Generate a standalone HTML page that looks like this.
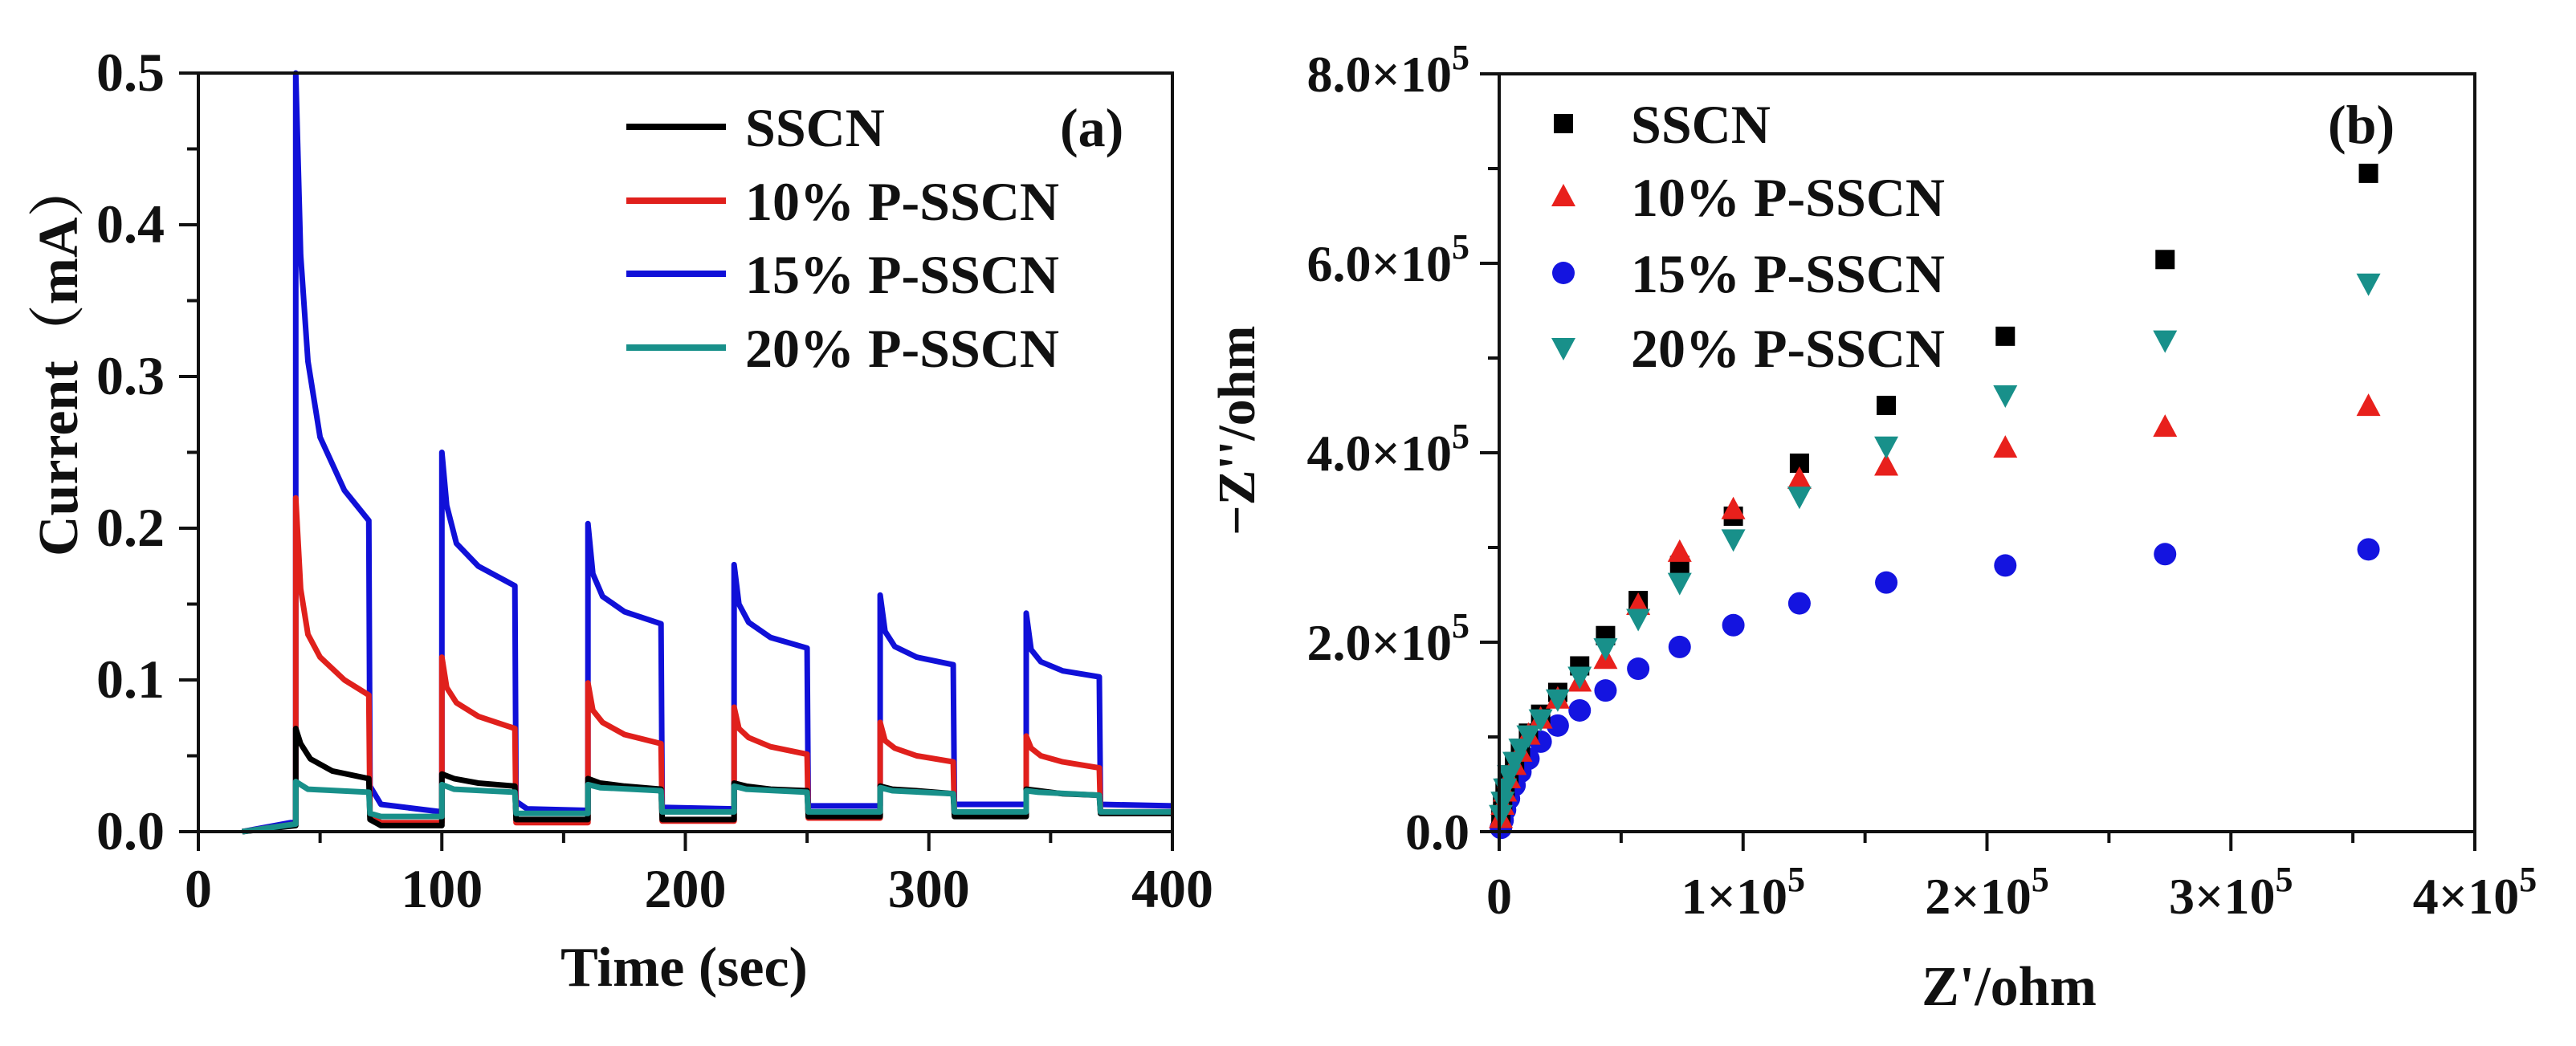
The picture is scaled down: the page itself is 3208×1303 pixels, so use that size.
<!DOCTYPE html>
<html><head><meta charset="utf-8"><style>
html,body{margin:0;padding:0;background:#fff;}
svg{display:block;}
text{font-family:"Liberation Serif","Noto Serif CJK SC",serif;font-weight:bold;fill:#111;}
</style></head><body>
<svg id="fig" width="3208" height="1303" viewBox="0 0 3208 1303" xmlns="http://www.w3.org/2000/svg">
<rect width="3208" height="1303" fill="#fff"/>
<g id="chartA"></g>
<g id="chartB"></g>
</svg>
<script>
// ---------- Chart (a) data ----------
const aXTicks = [0, 100, 200, 300, 400];
const aYTicks = [0.0, 0.1, 0.2, 0.3, 0.4, 0.5];
const aSeriesNames = ["SSCN", "10% P-SSCN", "15% P-SSCN", "20% P-SSCN"];
const aSSCN = [[18,0],[40,0.004],[40,0.068],[42,0.058],[46,0.048],[55,0.04],[70,0.035],[70.5,0.008],[75,0.004],[100,0.004],[100,0.038],[105,0.035],[115,0.032],[130,0.03],[130.5,0.008],[160,0.008],[160,0.035],[165,0.032],[175,0.03],[190,0.028],[190.5,0.008],[220,0.008],[220,0.032],[225,0.03],[235,0.028],[250,0.027],[250.5,0.01],[280,0.01],[280,0.03],[285,0.028],[295,0.027],[310,0.025],[310.5,0.01],[340,0.01],[340,0.028],[345,0.027],[355,0.025],[370,0.024],[370.5,0.012],[400,0.012]];
const aP10 = [[18,0],[40,0.005],[40,0.22],[42,0.16],[45,0.13],[50,0.115],[60,0.1],[70,0.09],[70.5,0.01],[75,0.006],[100,0.006],[100,0.115],[102,0.095],[106,0.085],[115,0.076],[130,0.068],[130.5,0.006],[160,0.006],[160,0.098],[162,0.08],[166,0.072],[175,0.064],[190,0.058],[190.5,0.007],[220,0.007],[220,0.082],[222,0.068],[226,0.062],[235,0.056],[250,0.051],[250.5,0.009],[280,0.009],[280,0.072],[282,0.06],[286,0.055],[295,0.05],[310,0.046],[310.5,0.011],[340,0.011],[340,0.063],[342,0.055],[346,0.05],[355,0.046],[370,0.042],[370.5,0.013],[400,0.013]];
const aP15 = [[18,0],[38,0.006],[40,0.006],[40,0.5],[42,0.38],[45,0.31],[50,0.26],[60,0.225],[70,0.205],[70.5,0.03],[75,0.018],[100,0.013],[100,0.25],[102,0.215],[106,0.19],[115,0.175],[130,0.162],[130.5,0.02],[135,0.015],[160,0.014],[160,0.203],[162,0.17],[166,0.155],[175,0.145],[190,0.137],[190.5,0.016],[220,0.015],[220,0.176],[222,0.15],[226,0.138],[235,0.128],[250,0.121],[250.5,0.017],[280,0.017],[280,0.156],[282,0.132],[286,0.122],[295,0.115],[310,0.11],[310.5,0.018],[340,0.018],[340,0.144],[342,0.12],[346,0.112],[355,0.106],[370,0.102],[370.5,0.018],[400,0.017]];
const aP20 = [[18,0],[40,0.005],[40,0.033],[45,0.028],[70,0.026],[70.5,0.012],[75,0.01],[100,0.01],[100,0.031],[105,0.028],[130,0.026],[130.5,0.012],[160,0.012],[160,0.031],[165,0.029],[190,0.027],[190.5,0.013],[220,0.013],[220,0.03],[225,0.028],[250,0.026],[250.5,0.013],[280,0.013],[280,0.029],[285,0.027],[310,0.025],[310.5,0.013],[340,0.013],[340,0.027],[345,0.026],[370,0.024],[370.5,0.013],[400,0.013]];

// ---------- Chart (b) data ----------
const bXTicks = [0, 1, 2, 3, 4];       // ×10^5
const bYTicks = [0, 2, 4, 6, 8];       // ×10^5
const bZre = [0.007,0.014,0.024,0.04,0.063,0.087,0.12,0.17,0.24,0.33,0.436,0.57,0.74,0.96,1.231,1.587,2.075,2.73,3.564]; // ×10^5
const bSSCN = [0.18,0.32,0.46,0.6,0.74,0.88,1.04,1.24,1.47,1.75,2.07,2.44,2.81,3.33,3.89,4.5,5.23,6.04,6.95];
const bP10 = [0.14,0.28,0.42,0.56,0.70,0.84,1.02,1.19,1.40,1.58,1.82,2.39,2.95,3.40,3.72,3.86,4.05,4.27,4.49];
const bP15 = [0.04,0.12,0.23,0.35,0.49,0.63,0.77,0.95,1.12,1.28,1.49,1.72,1.95,2.18,2.41,2.63,2.81,2.93,2.98];
const bP20 = [0.18,0.32,0.46,0.6,0.74,0.88,1.02,1.19,1.40,1.64,1.94,2.25,2.63,3.09,3.54,4.07,4.61,5.19,5.79];

const NS = "http://www.w3.org/2000/svg";
function mk(parent, tag, attrs, txt){
  const e = document.createElementNS(NS, tag);
  for (const k in attrs) e.setAttribute(k, attrs[k]);
  if (txt !== undefined) e.textContent = txt;
  parent.appendChild(e);
  return e;
}

// ---------- Chart (a) ----------
(function(){
  const g = document.getElementById('chartA');
  const L=247, R=1460, T=91, B=1036;
  const xs = v => L + (v/400)*(R-L);
  const ys = v => B - (v/0.5)*(B-T);
  const colors = ["#000000","#e0201c","#1010d8","#18908a"];
  const data = [aSSCN, aP10, aP15, aP20];
  const order = [2,1,0,3];
  order.forEach(i=>{
    const d = data[i].map((p,j)=>(j?'L':'M')+xs(p[0]).toFixed(1)+' '+ys(p[1]).toFixed(1)).join(' ');
    const p = mk(g,'path',{d:d,fill:'none',stroke:colors[i],'stroke-width':7,'stroke-linejoin':'round'});
    
    
  });
  const fr = mk(g,'rect',{x:L,y:T,width:R-L,height:B-T,fill:'none',stroke:'#111','stroke-width':4});
  
  
  aXTicks.forEach(v=>{
    mk(g,'line',{x1:xs(v),x2:xs(v),y1:B,y2:B+24,stroke:'#111','stroke-width':4});
    const t = mk(g,'text',{x:xs(v),y:1130,'text-anchor':'middle','font-size':68},String(v));
    
    
  });
  for(let v=50; v<400; v+=100) mk(g,'line',{x1:xs(v),x2:xs(v),y1:B,y2:B+14,stroke:'#111','stroke-width':4});
  aYTicks.forEach(v=>{
    mk(g,'line',{x1:L-24,x2:L,y1:ys(v),y2:ys(v),stroke:'#111','stroke-width':4});
    const t = mk(g,'text',{x:205,y:ys(v)+22,'text-anchor':'end','font-size':68},v.toFixed(1));
    
    
  });
  for(let v=0.05; v<0.5; v+=0.1) mk(g,'line',{x1:L-14,x2:L,y1:ys(v),y2:ys(v),stroke:'#111','stroke-width':4});
  const xt = mk(g,'text',{x:852,y:1228,'text-anchor':'middle','font-size':70},'Time (sec)');
  
  
  const yt = mk(g,'text',{x:0,y:0,'text-anchor':'start','font-size':70,transform:'translate(96,693) rotate(-90)'},'Current（mA）');
  
  
  const lab = mk(g,'text',{x:1320,y:182,'font-size':68},'(a)');
  
  
  const rows=[158,250,341,433];
  aSeriesNames.forEach((n,i)=>{
    const lg = mk(g,'g',{});
    
    
    mk(lg,'line',{x1:780,x2:904,y1:rows[i],y2:rows[i],stroke:colors[i],'stroke-width':8});
    mk(lg,'text',{x:928,y:rows[i]+24,'font-size':68},n);
  });
})();

// ---------- Chart (b) ----------
(function(){
  const g = document.getElementById('chartB');
  const L=1867, R=3082, T=92, B=1036;
  const xs = v => L + (v/4)*(R-L);
  const ys = v => B - (v/8)*(B-T);
  const names = ["SSCN","10% P-SSCN","15% P-SSCN","20% P-SSCN"];
  const colors = ["#000000","#e8201c","#1414e0","#18908a"];
  const data = [bSSCN,bP10,bP15,bP20];
  function marker(parent, kind, cx, cy, col){
    if(kind===0) return mk(parent,'rect',{x:cx-12,y:cy-12,width:24,height:24,fill:col});
    if(kind===1) return mk(parent,'polygon',{points:`${cx},${cy-16} ${cx+15},${cy+12} ${cx-15},${cy+12}`,fill:col});
    if(kind===2) return mk(parent,'circle',{cx:cx,cy:cy,r:14,fill:col});
    return mk(parent,'polygon',{points:`${cx-15},${cy-12} ${cx+15},${cy-12} ${cx},${cy+16}`,fill:col});
  }
  [2,0,1,3].forEach(i=>{
    const sg = mk(g,'g',{});
    
    
    data[i].forEach((v,j)=>{
      const m = marker(sg,i,xs(bZre[j]),ys(v),colors[i]);
      
      
    });
  });
  const fr = mk(g,'rect',{x:L,y:T,width:R-L,height:B-T,fill:'none',stroke:'#111','stroke-width':4});
  
  
  bXTicks.forEach(v=>{
    mk(g,'line',{x1:xs(v),x2:xs(v),y1:B,y2:B+24,stroke:'#111','stroke-width':4});
    const t = mk(g,'text',{x:xs(v),y:1138,'text-anchor':'middle','font-size':64});
    
    
    if(v===0){ t.textContent='0'; }
    else { t.textContent = v+'×10'; mk(t,'tspan',{dy:-28,'font-size':44},'5'); }
  });
  for(let v=0.5; v<4; v+=1) mk(g,'line',{x1:xs(v),x2:xs(v),y1:B,y2:B+14,stroke:'#111','stroke-width':4});
  bYTicks.forEach(v=>{
    mk(g,'line',{x1:L-24,x2:L,y1:ys(v),y2:ys(v),stroke:'#111','stroke-width':4});
    const t = mk(g,'text',{x:1830,y:ys(v)+22,'text-anchor':'end','font-size':64});
    
    
    if(v===0){ t.textContent='0.0'; }
    else { t.textContent = v.toFixed(1)+'×10'; mk(t,'tspan',{dy:-28,'font-size':44},'5'); }
  });
  for(let v=1; v<8; v+=2) mk(g,'line',{x1:L-14,x2:L,y1:ys(v),y2:ys(v),stroke:'#111','stroke-width':4});
  const xt = mk(g,'text',{x:2502,y:1252,'text-anchor':'middle','font-size':70},"Z'/ohm");
  
  
  const yt = mk(g,'text',{x:0,y:0,'text-anchor':'start','font-size':66,transform:'translate(1562,667) rotate(-90)'},"−Z''/ohm");
  
  
  const lab = mk(g,'text',{x:2899,y:178,'font-size':68},'(b)');
  
  
  const rows=[154,245,340,433];
  names.forEach((n,i)=>{
    const lg = mk(g,'g',{});
    
    
    marker(lg,i,1947,rows[i],colors[i]);
    mk(lg,'text',{x:2031,y:rows[i]+24,'font-size':68},n);
  });
})();
</script>
</body></html>
